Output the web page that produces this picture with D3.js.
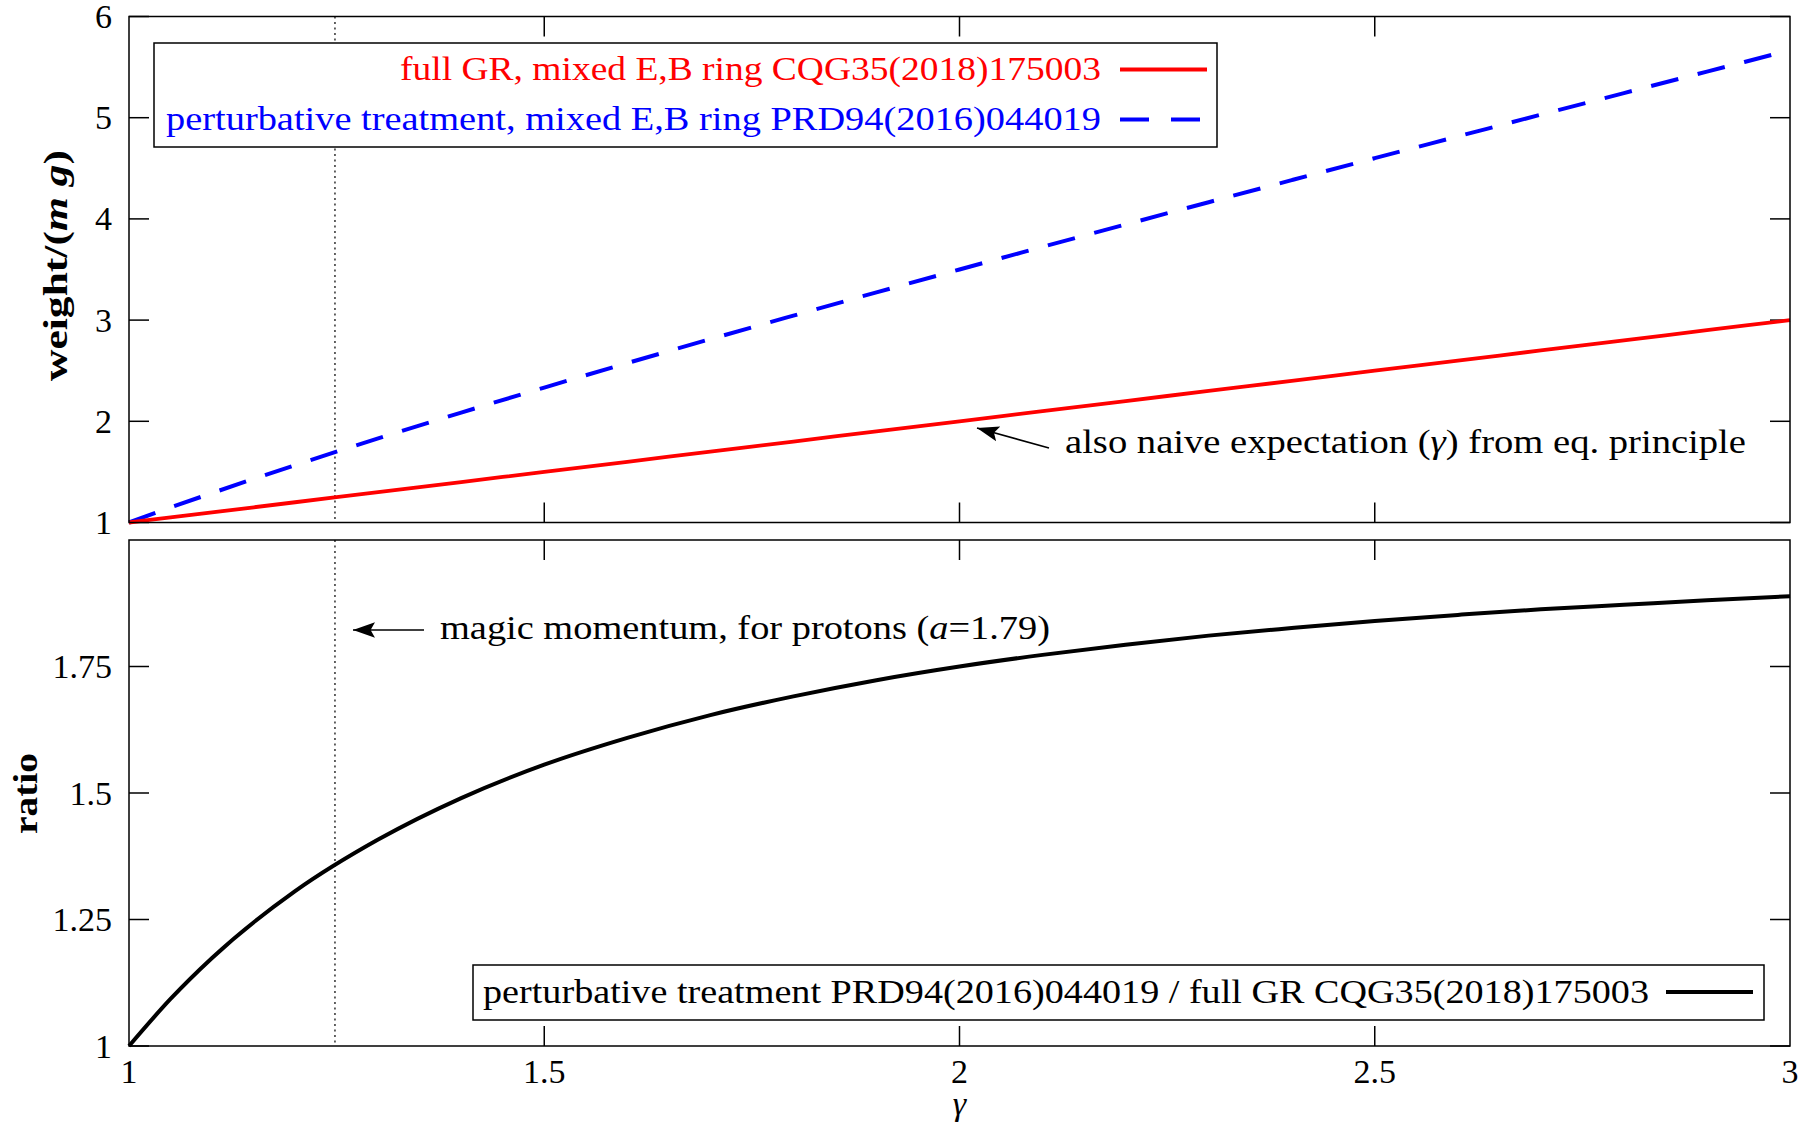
<!DOCTYPE html>
<html><head><meta charset="utf-8">
<script src="https://cdn.jsdelivr.net/npm/d3@7"></script>
<style>body{margin:0;background:#fff}svg{display:block}text{font-family:"Liberation Serif","Times New Roman",serif}</style>
</head><body>
<svg id="c" width="1817" height="1124"></svg>
<script>
const gamma   = [1.0,1.05,1.1,1.2,1.3,1.4,1.5,1.6,1.7,1.8,1.9,2.0,2.1,2.2,2.3,2.4,2.5,2.6,2.7,2.8,2.9,3.0];
const fullGR  = [1.0,1.05,1.1,1.2,1.3,1.4,1.5,1.6,1.7,1.8,1.9,2.0,2.1,2.2,2.3,2.4,2.5,2.6,2.7,2.8,2.9,3.0];
const pert    = [1.0,1.148,1.291,1.567,1.831,2.086,2.333,2.575,2.812,3.044,3.274,3.5,3.724,3.945,4.165,4.383,4.6,4.815,5.030,5.243,5.455,5.667];
const ratio   = [1.0,1.093,1.174,1.306,1.408,1.490,1.556,1.609,1.654,1.691,1.723,1.75,1.773,1.793,1.811,1.826,1.84,1.852,1.863,1.872,1.881,1.889];
const xTicks  = [1,1.5,2,2.5,3];
const yTicksTop = [1,2,3,4,5,6];
const yTicksBot = [1,1.25,1.5,1.75];
const magicGamma = 1.248;
const legendTop = ["full GR, mixed E,B ring CQG35(2018)175003","perturbative treatment, mixed E,B ring PRD94(2016)044019"];
const legendBot = "perturbative treatment PRD94(2016)044019 / full GR CQG35(2018)175003";

const svg = d3.select("#c");
const L=129, R=1790, T1=16.5, B1=522.5, T2=540, B2=1046;
const FS=34;
const x = d3.scaleLinear().domain([1,3]).range([L,R]);
const y1 = d3.scaleLinear().domain([1,6]).range([B1,T1]);
const y2 = d3.scaleLinear().domain([1,2]).range([B2,T2]);
const TL=20;
function fit(sel,w){ sel.attr("textLength",w).attr("lengthAdjust","spacingAndGlyphs"); return sel; }

function frame(top,bot,ys,yTicks,fmt,showX){
  const g=svg.append("g");
  xTicks.forEach(v=>{
    if(v===1||v===3) return;
    g.append("line").attr("x1",x(v)).attr("x2",x(v)).attr("y1",bot).attr("y2",bot-TL).attr("stroke","#000").attr("stroke-width",1.5);
    g.append("line").attr("x1",x(v)).attr("x2",x(v)).attr("y1",top).attr("y2",top+TL).attr("stroke","#000").attr("stroke-width",1.5);
  });
  yTicks.forEach(v=>{
    g.append("line").attr("x1",L).attr("x2",L+TL).attr("y1",ys(v)).attr("y2",ys(v)).attr("stroke","#000").attr("stroke-width",1.5);
    g.append("line").attr("x1",R).attr("x2",R-TL).attr("y1",ys(v)).attr("y2",ys(v)).attr("stroke","#000").attr("stroke-width",1.5);
    g.append("text").attr("x",L-17).attr("y",ys(v)).attr("dy","0.34em").attr("text-anchor","end").attr("font-size",FS).text(fmt(v));
  });
  if(showX){
    xTicks.forEach(v=>{
      g.append("text").attr("x",x(v)).attr("y",bot+37).attr("text-anchor","middle").attr("font-size",FS).text(String(v));
    });
  }
  g.append("line").attr("x1",x(magicGamma)).attr("x2",x(magicGamma)).attr("y1",top).attr("y2",bot)
    .attr("stroke","#222").attr("stroke-width",1.4).attr("stroke-dasharray","2,3.5");
  return g;
}
frame(T1,B1,y1,yTicksTop,v=>String(v),false);
frame(T2,B2,y2,yTicksBot,v=>String(v),true);

const line1=d3.line().x((d,i)=>x(gamma[i])).y(d=>y1(d)).curve(d3.curveMonotoneX);
const line2=d3.line().x((d,i)=>x(gamma[i])).y(d=>y2(d)).curve(d3.curveMonotoneX);

svg.append("rect").attr("x",154).attr("y",43).attr("width",1063).attr("height",104).attr("fill","#fff").attr("stroke","#000").attr("stroke-width",1.5);
fit(svg.append("text").attr("x",400).attr("y",80).attr("font-size",FS).attr("fill","#f00").text(legendTop[0]),701);
fit(svg.append("text").attr("x",166).attr("y",130).attr("font-size",FS).attr("fill","#00f").text(legendTop[1]),935);
svg.append("line").attr("x1",1120).attr("x2",1207).attr("y1",69.5).attr("y2",69.5).attr("stroke","#f00").attr("stroke-width",4);
svg.append("line").attr("x1",1120).attr("x2",1207).attr("y1",119.5).attr("y2",119.5).attr("stroke","#00f").attr("stroke-width",4).attr("stroke-dasharray","29,22");

svg.append("path").attr("d",line1(pert)).attr("fill","none").attr("stroke","#00f").attr("stroke-width",4).attr("stroke-dasharray","28,20");
svg.append("path").attr("d",line1(fullGR)).attr("fill","none").attr("stroke","#f00").attr("stroke-width",3.8);

svg.append("rect").attr("x",473).attr("y",965).attr("width",1291).attr("height",55).attr("fill","#fff").attr("stroke","#000").attr("stroke-width",1.5);
fit(svg.append("text").attr("x",483).attr("y",1003).attr("font-size",FS).text(legendBot),1166);
svg.append("line").attr("x1",1666).attr("x2",1753).attr("y1",992).attr("y2",992).attr("stroke","#000").attr("stroke-width",4);

svg.append("path").attr("d",line2(ratio)).attr("fill","none").attr("stroke","#000").attr("stroke-width",4);

[[T1,B1],[T2,B2]].forEach(([t,b])=>svg.append("rect").attr("x",L).attr("y",t).attr("width",R-L).attr("height",b-t).attr("fill","none").attr("stroke","#000").attr("stroke-width",1.5));

svg.append("defs").append("marker").attr("id","ah").attr("viewBox","0 0 10 10").attr("refX",10).attr("refY",5)
  .attr("markerWidth",22).attr("markerHeight",22).attr("markerUnits","userSpaceOnUse").attr("orient","auto")
  .append("path").attr("d","M0,1.5 L10,5 L0,8.5 L2,5 Z").attr("fill","#000");
svg.append("line").attr("x1",1049).attr("y1",448).attr("x2",977).attr("y2",428).attr("stroke","#000").attr("stroke-width",1.6).attr("marker-end","url(#ah)");
svg.append("line").attr("x1",424).attr("y1",630).attr("x2",353).attr("y2",630).attr("stroke","#000").attr("stroke-width",1.6).attr("marker-end","url(#ah)");

const a1=svg.append("text").attr("x",1065).attr("y",453).attr("font-size",FS);
a1.append("tspan").text("also naive expectation (");
a1.append("tspan").attr("font-style","italic").text("γ");
a1.append("tspan").text(") from eq. principle");
fit(a1,681);
const a2=svg.append("text").attr("x",440).attr("y",639).attr("font-size",FS);
a2.append("tspan").text("magic momentum, for protons (");
a2.append("tspan").attr("font-style","italic").text("a");
a2.append("tspan").text("=1.79)");
fit(a2,610);

const yl=svg.append("text").attr("transform","translate(67,266) rotate(-90)").attr("x",-115).attr("font-size",FS).attr("font-weight","bold");
yl.append("tspan").text("weight/(");
yl.append("tspan").attr("font-style","italic").text("m g");
yl.append("tspan").text(")");
fit(yl,231);
fit(svg.append("text").attr("transform","translate(37,794) rotate(-90)").attr("x",-40).attr("font-size",FS).attr("font-weight","bold").text("ratio"),81);
svg.append("text").attr("x",x(2)).attr("y",1115).attr("text-anchor","middle").attr("font-size",FS).attr("font-style","italic").text("γ");
</script>
</body></html>
